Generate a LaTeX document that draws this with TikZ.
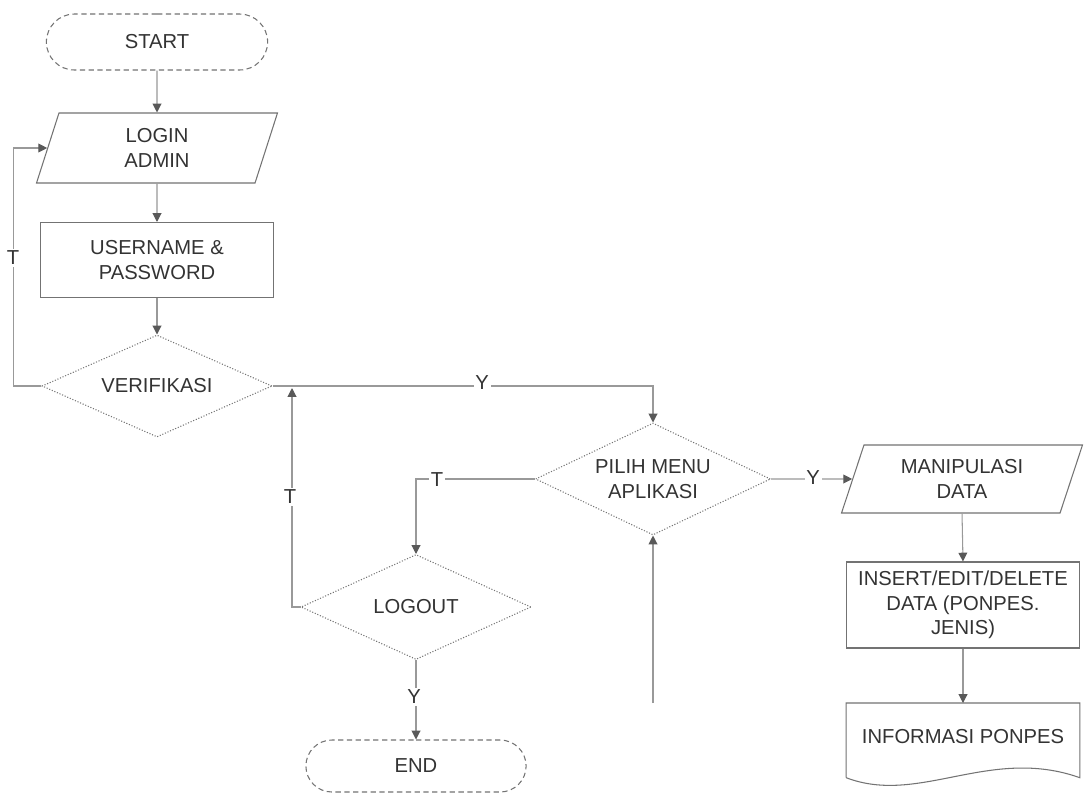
\documentclass[tikz,border=0pt]{standalone}
\usepackage{fontspec}
\setmainfont{Liberation Sans}
\usetikzlibrary{shapes.geometric,shapes.misc,arrows.meta,calc}
\begin{document}
\begin{tikzpicture}[x=0.02cm,y=-0.02cm,
  every node/.style={font=\fontsize{11.5}{14}\selectfont, text=black!80, align=center},
  shapeline/.style={draw=black!55, line width=0.6pt},
  termbox/.style={shapeline, rounded rectangle, densely dashed, minimum width=4.66cm, minimum height=1.12cm},
  iobox/.style={shapeline, trapezium, trapezium left angle=66, trapezium right angle=114, trapezium stretches body, minimum width=4.82cm, minimum height=1.4cm},
  procbox/.style={shapeline, rectangle, minimum width=4.66cm},
  decbox/.style={shapeline, diamond, densely dotted, inner sep=0pt, aspect=2.25},
  flow/.style={draw=black!40, line width=0.6pt, -{Triangle[length=5pt,width=5pt,color=black!65]}},
  lbl/.style={fill=white, inner sep=1pt}
]
\fill[white] (0,0) rectangle (1084,792);
\useasboundingbox (0,0) rectangle (1084,792);

% nodes
\node[termbox] (start) at (157,42) {START};
\node[iobox] (login) at (157,148) {LOGIN\\ADMIN};
\node[procbox, minimum height=1.5cm] (user) at (157,260) {USERNAME \&\\PASSWORD};
\node[decbox, minimum width=4.6cm, minimum height=2.04cm] (verif) at (157,386) {VERIFIKASI};
\node[decbox, minimum width=4.7cm, minimum height=2.24cm] (pilih) at (653,479) {PILIH MENU\\APLIKASI};
\node[decbox, minimum width=4.6cm, minimum height=2.1cm] (logout) at (416,607) {LOGOUT};
\node[termbox, minimum width=4.64cm, minimum height=1.04cm] (end) at (416,766) {END};
\node[iobox, minimum height=1.36cm] (manip) at (962,479) {MANIPULASI\\DATA};
\node[procbox, minimum height=1.72cm] (insert) at (963,605) {INSERT/EDIT/DELETE\\DATA (PONPES.\\JENIS)};
\node[rectangle, minimum width=4.66cm, minimum height=1.48cm, anchor=north] (info) at (963,703) {\raisebox{4pt}{INFORMASI PONPES}};
\draw[shapeline] (info.south west) -- (info.north west) -- (info.north east) -- (info.south east)
  .. controls ($(info.south east)+(-90,-32)$) and ($(info.south west)+(73,28)$) .. (info.south west);

\coordinate (merge) at (292,388);
\coordinate (loopstart) at (653,703);

% connectors
\draw[flow] (start) -- (login);
\draw[flow] (login) -- (user);
\draw[flow] (user) -- (verif);
\draw[flow] (verif.west) -- ++(-28,0) |- (login.west);
\draw[flow] (verif.east) -| (pilih.north);
\draw[flow] (pilih.west) -| (logout.north);
\draw[flow] (logout.west) -| (merge);
\draw[flow] (logout.south) -- (end.north);
\draw[flow] (loopstart) -- (pilih.south);
\draw[flow] (pilih.east) -- (manip.west);
\draw[flow] (manip.south) -- (insert.north);
\draw[flow] (insert.south) -- (info.north);

% labels
\node[lbl] (lt1) at (13,258) {T};
\node[lbl] (ly1) at (482,383) {Y};
\node[lbl] (lt2) at (437,480) {T};
\node[lbl] (lt3) at (290,497) {T};
\node[lbl] (ly2) at (414,697) {Y};
\node[lbl] (ly3) at (813,478) {Y};
\end{tikzpicture}
\end{document}
